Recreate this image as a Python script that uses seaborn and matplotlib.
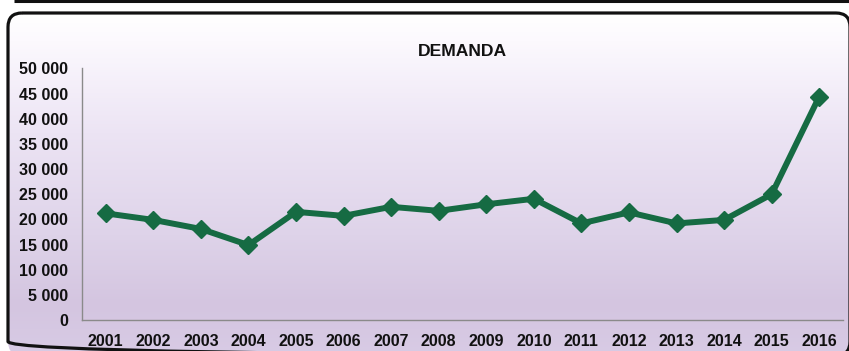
import numpy as np
import matplotlib
matplotlib.use("Agg")
import matplotlib.pyplot as plt
from matplotlib.patches import FancyBboxPatch
from matplotlib.ticker import FuncFormatter
import seaborn as sns
import pandas as pd

# Annual demand series
years = ["2001", "2002", "2003", "2004", "2005", "2006", "2007", "2008",
         "2009", "2010", "2011", "2012", "2013", "2014", "2015", "2016"]
demanda = [21200, 19900, 18100, 14900, 21500, 20700, 22500, 21700,
           23000, 24100, 19200, 21400, 19200, 19900, 25000, 44400]
title = "DEMANDA"
y_ticks = list(range(0, 50001, 5000))

sns.set_theme(style="white")
plt.rcParams["font.family"] = ["Liberation Sans", "DejaVu Sans"]

W, H = 849, 351
fig = plt.figure(figsize=(W / 100, H / 100), dpi=100)
fig.patch.set_facecolor("white")

# Panel background: rounded frame with a white-to-lavender gradient
bg = fig.add_axes([0, 0, 1, 1], zorder=0)
bg.set_xlim(0, W)
bg.set_ylim(H, 0)
bg.axis("off")

x0, y0, bw, bh = 8, 13, 842, 342.5
box = FancyBboxPatch((x0, y0), bw, bh, boxstyle="round,pad=0,rounding_size=14",
                     facecolor="none", edgecolor="#111111", linewidth=2.3, zorder=3)
clip = FancyBboxPatch((x0, y0), bw, bh, boxstyle="round,pad=0,rounding_size=14",
                      facecolor="none", edgecolor="none", transform=bg.transData)
bg.add_patch(clip)

stops_y = np.array([0.0, 0.08, 0.35, 0.65, 0.85, 1.0])
stops_c = np.array([[255, 255, 255], [252, 249, 254], [236, 228, 244],
                    [222, 211, 233], [212, 197, 224], [216, 203, 229]]) / 255.0
t = np.linspace(0, 1, 400)
grad = np.stack([np.interp(t, stops_y, stops_c[:, i]) for i in range(3)], axis=-1)
img = np.repeat(grad[:, None, :], 2, axis=1)
im = bg.imshow(img, extent=[x0, x0 + bw, y0 + bh, y0], aspect="auto", zorder=1,
               interpolation="bilinear")
im.set_clip_path(clip)
bg.add_patch(box)

# Bottom border of the panel above
bg.plot([14, W], [1.2, 1.2], color="#111111", linewidth=2.2, zorder=3,
        solid_capstyle="butt")

# Chart area
left, right, top, bottom = 82, 843, 68.5, 320
ax = fig.add_axes([left / W, 1 - bottom / H, (right - left) / W, (bottom - top) / H],
                  zorder=2)
ax.set_facecolor("none")

df = pd.DataFrame({"year": years, "demanda": demanda})
sns.pointplot(data=df, x="year", y="demanda", ax=ax, color="#166b43",
              markers="D", errorbar=None, linewidth=4.3, markersize=9.5,
              markeredgewidth=1.0)

ax.set_xlim(-0.5, len(years) - 0.5)
ax.set_ylim(0, 50000)
ax.set_yticks(y_ticks)
ax.yaxis.set_major_formatter(FuncFormatter(lambda v, p: f"{int(v):,}".replace(",", " ")))
ax.set_xlabel("")
ax.set_ylabel("")

for s in ["top", "right"]:
    ax.spines[s].set_visible(False)
for s in ["left", "bottom"]:
    ax.spines[s].set_color("#8a8a8a")
    ax.spines[s].set_linewidth(1.0)

ax.tick_params(axis="both", length=0, labelsize=11.5, labelcolor="#111111")
ax.tick_params(axis="y", pad=10)
ax.tick_params(axis="x", pad=10)
for lab in ax.get_xticklabels() + ax.get_yticklabels():
    lab.set_fontweight("bold")

fig.text(462 / W, 1 - 52 / H, title, ha="center", va="center",
         fontsize=12.6, fontweight="bold", color="#111111")

fig.savefig("out.png", dpi=100)
